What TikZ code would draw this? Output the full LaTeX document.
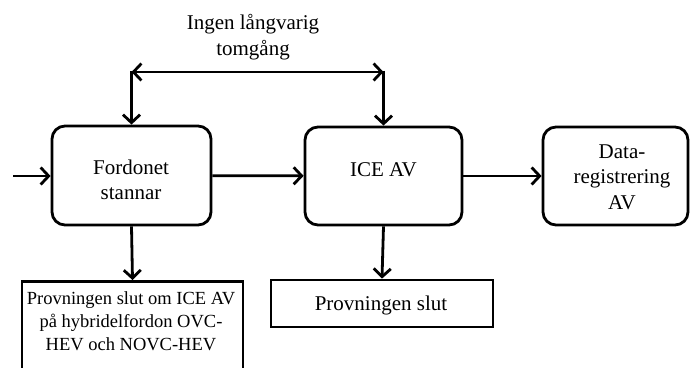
\documentclass[tikz,border=0pt]{standalone}
\usepackage{fontspec}
\setmainfont{Liberation Serif}
\usetikzlibrary{arrows.meta}
\begin{document}
\begin{tikzpicture}[x=1pt,y=-1pt,
  every node/.style={font=\fontsize{21}{25.5}\selectfont, align=center, inner sep=0pt},
  rbox/.style={draw, line width=2.8pt, rounded corners=13pt},
  sbox/.style={draw, line width=2.8pt},
  conn/.style={line width=2.8pt, -{Straight Barb[length=8pt,width=17pt,line width=2.8pt]}},
  conn2/.style={line width=2.8pt, {Straight Barb[length=8pt,width=17pt,line width=2.8pt]}-{Straight Barb[length=8pt,width=17pt,line width=2.8pt]}}
]
\clip (0,0) rectangle (690,367);
\fill[white] (0,0) rectangle (690,367);

\node (top) at (253,37) {Ingen långvarig\\tomgång};

\node[rbox, minimum width=159pt, minimum height=99pt] (F) at (131.5,175.5) {};
\node (ftext) at (131,180) {Fordonet\\stannar};
\node[rbox, minimum width=157pt, minimum height=98pt] (ICE) at (383.5,176) {};
\node (icetext) at (383.5,170) {ICE AV};
\node[rbox, minimum width=145pt, minimum height=98pt] (D) at (615.5,176) {};
\node (dtext) at (622,177) {Data-\\registrering\\AV};

\node[sbox, minimum width=221pt, minimum height=130pt, anchor=north] (PL) at (132.5,280) {};
\node[font=\fontsize{18.5}{23}\selectfont] (pltext) at (131,321) {Provningen slut om ICE AV\\på hybridelfordon OVC-\\HEV och NOVC-HEV};
\node[sbox, minimum width=222pt, minimum height=47pt] (PS) at (382,303.5) {};
\node (pstext) at (381,305) {Provningen slut};

\coordinate (in) at (13,176);
\coordinate (tl) at (131.5,72);
\coordinate (tr) at (383.5,72);

\draw[conn] (in) -- (F.west |- in);
\draw[conn] (F) -- (ICE);
\draw[conn] (ICE) -- (D);
\draw[conn2] (tl) -- (tr);
\draw[conn, shorten <=-1.4pt] (tl) -- (F.north);
\draw[conn, shorten <=-1.4pt] (tr) -- (ICE.north);
\draw[conn] (F.south) -- (PL.north);
\draw[conn] (ICE.south) -- (PS.north);
\end{tikzpicture}
\end{document}
